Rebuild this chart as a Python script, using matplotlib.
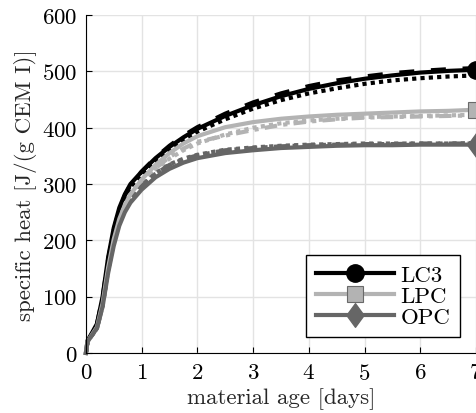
import numpy as np
import matplotlib
matplotlib.use("Agg")
import matplotlib.pyplot as plt
from matplotlib.path import Path

plt.rcParams["font.family"] = ["cmr10", "DejaVu Serif"]
plt.rcParams["mathtext.fontset"] = "cm"
plt.rcParams["axes.formatter.use_mathtext"] = True

# material age [days]
age = [0, 0.03, 0.1, 0.2, 0.3, 0.4, 0.5, 0.6, 0.7, 0.8, 1.0, 1.25, 1.5, 1.75,
       2.0, 2.5, 3.0, 3.5, 4.0, 4.5, 5.0, 5.5, 6.0, 6.5, 7.0]

# LC3
lc3_solid = [0, 22, 34, 52, 100, 170, 222, 258, 282, 300, 322, 346, 366, 383,
             398, 421, 440, 456, 469, 479, 487, 493, 498, 501, 503]
lc3_dash = [0, 22, 34, 52, 98, 166, 218, 255, 280, 298, 322, 347, 368, 386,
            401, 425, 445, 461, 474, 484, 491, 497, 501, 504, 506]
lc3_dot = [0, 20, 32, 49, 93, 160, 212, 250, 276, 295, 318, 342, 362, 379,
           393, 415, 434, 449, 461, 470, 478, 484, 488, 491, 493]

# LPC
lpc_solid = [0, 20, 31, 46, 88, 152, 202, 238, 263, 282, 308, 334, 355, 372,
             385, 401, 410, 416, 420, 423, 425, 427, 429, 430, 432]
lpc_dashdot = [0, 20, 31, 46, 88, 150, 200, 236, 262, 280, 304, 328, 348, 363,
               375, 386, 396, 405, 411, 415, 418, 419, 420, 421, 422]
lpc_dot = [0, 20, 31, 46, 87, 149, 199, 235, 261, 279, 304, 327, 345, 360,
           372, 388, 400, 408, 413, 416, 419, 420, 421, 422, 423]

# OPC
opc_solid = [0, 20, 30, 44, 82, 142, 190, 226, 250, 267, 290, 312, 327, 338,
             346, 355, 360, 364, 366, 368, 369, 369, 370, 370, 370]
opc_dashdot = [0, 20, 30, 44, 84, 147, 196, 232, 256, 273, 296, 318, 334, 344,
               351, 360, 364, 367, 369, 370, 371, 371, 372, 372, 372]
opc_dot = [0, 20, 30, 44, 84, 148, 197, 233, 257, 274, 297, 319, 335, 345,
           352, 361, 365, 368, 370, 371, 372, 372, 372, 372, 373]

c_lc3 = "black"
c_lpc = "#b3b3b3"
c_opc = "#666666"
lw = 3.0

diamond = Path([(0, 1), (0.73, 0), (0, -1), (-0.73, 0), (0, 1)],
               [Path.MOVETO, Path.LINETO, Path.LINETO, Path.LINETO,
                Path.CLOSEPOLY])

fig = plt.figure(figsize=(4.77, 4.14), dpi=100)
ax = fig.add_axes([0.180, 0.145, 0.818, 0.816])

# secondary line styles
ax.plot(age, lc3_dash, color=c_lc3, lw=lw, ls=(0, (3.6, 4)))
ax.plot(age, lc3_dot, color=c_lc3, lw=lw, ls=(0, (1, 1)))
ax.plot(age, lpc_dashdot, color=c_lpc, lw=lw, ls=(0, (3, 1.5, 1, 1.5)))
ax.plot(age, lpc_dot, color=c_lpc, lw=lw, ls=(0, (1, 1)))
ax.plot(age, opc_dashdot, color=c_opc, lw=lw, ls=(0, (3, 1.5, 1, 1.5)))
ax.plot(age, opc_dot, color=c_opc, lw=lw, ls=(0, (1, 1)))

# main lines with end markers
ax.plot(age, lc3_solid, color=c_lc3, lw=lw, marker="o", ms=12.5,
        markevery=[-1], clip_on=False, label="LC3")
ax.plot(age, lpc_solid, color=c_lpc, lw=lw, marker="s", ms=11,
        mec="#6a6a6a", mew=0.8, markevery=[-1], clip_on=False, label="LPC")
ax.plot(age, opc_solid, color=c_opc, lw=lw, marker=diamond, ms=17,
        markevery=[-1], clip_on=False, label="OPC")

ax.set_xlim(0, 7)
ax.set_ylim(0, 600)
ax.set_xticks(range(0, 8))
ax.set_yticks(range(0, 601, 100))
ax.grid(True, color="#e3e3e3", lw=1)
ax.set_axisbelow(True)
for s in ["top", "right"]:
    ax.spines[s].set_visible(False)
ax.tick_params(direction="in", labelsize=16.5, length=4)
ax.tick_params(axis="x", pad=7)
ax.tick_params(axis="y", pad=6)
ax.set_xlabel("material age [days]", fontsize=16.5, color="#262626",
              labelpad=3)
ax.set_ylabel("specific heat [J/(g CEM I)]", fontsize=16.5, color="#262626",
              labelpad=4)

leg = ax.legend(loc="lower right", bbox_to_anchor=(0.959, 0.047),
                fontsize=16.5, handlelength=3.4, fancybox=False,
                edgecolor="black", framealpha=1, borderpad=0.42,
                labelspacing=0.05, handletextpad=0.3, borderaxespad=0)
leg.get_frame().set_linewidth(1)

fig.savefig("out.png", dpi=100)
